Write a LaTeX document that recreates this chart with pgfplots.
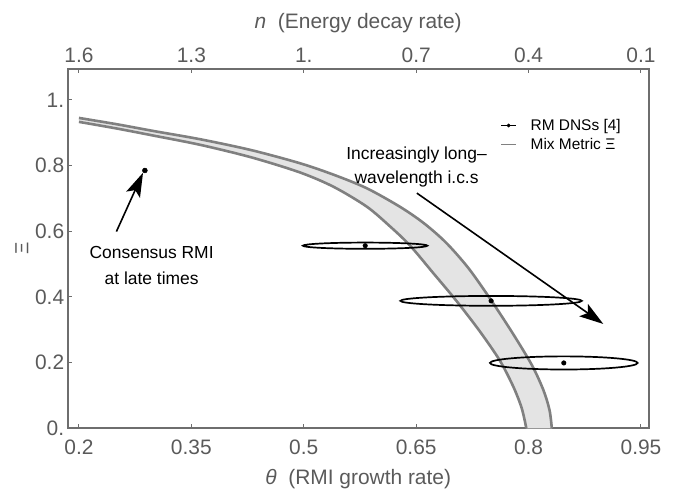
\documentclass[border=0pt]{standalone}
\usepackage{pgfplots}
\pgfplotsset{compat=1.18}
\usepgfplotslibrary{fillbetween}
\usepackage{fontspec}
\setmainfont{Liberation Sans}
\usetikzlibrary{arrows.meta}
\definecolor{framegray}{RGB}{110,110,110}
\definecolor{ticklab}{RGB}{90,90,90}
\definecolor{bandline}{RGB}{128,128,128}
\definecolor{bandfill}{RGB}{228,228,228}

\pgfplotstableread{
t xi
0.200 0.945
0.250 0.926
0.300 0.905
0.362 0.880
0.430 0.847
0.495 0.807
0.540 0.772
0.584 0.731
0.628 0.675
0.660 0.625
0.690 0.565
0.720 0.487
0.750 0.390
0.780 0.285
0.805 0.190
0.820 0.115
0.828 0.055
0.831 0.000
}\uptab

\pgfplotstableread{
t xi
0.200 0.933
0.250 0.913
0.300 0.891
0.362 0.863
0.430 0.825
0.495 0.779
0.540 0.735
0.584 0.675
0.615 0.615
0.642 0.556
0.673 0.472
0.703 0.390
0.735 0.295
0.762 0.205
0.780 0.125
0.791 0.060
0.797 0.000
}\lowtab

\pgfplotstableread{
t xi
0.582 0.556
0.750 0.388
0.847 0.199
}\dnstab

\pgfplotstableread{
t xi
0.288 0.785
}\constab

\begin{document}
\begin{tikzpicture}
\begin{axis}[
  name=main,
  scale only axis, width=581bp, height=359.3bp,
  xmin=0.185, xmax=0.9603, ymin=0, ymax=1.094,
  axis line style={framegray, line width=1.6bp},
  xtick={0.2,0.35,0.5,0.65,0.8,0.95},
  xticklabels={0.2,0.35,0.5,0.65,0.8,0.95},
  ytick={0,0.2,0.4,0.6,0.8,1},
  yticklabels={0.,0.2,0.4,0.6,0.8,1.},
  xtick pos=bottom, ytick pos=left,
  tick align=inside, major tick length=4.5bp,
  minor tick num=0,
  tick style={framegray, line width=1bp},
  tick label style={font=\fontsize{21}{21}\selectfont, text=ticklab},
  xticklabel shift=8bp,
  xlabel={\textit{θ}\ \ (RMI growth rate)},
  ylabel={Ξ},
  label style={font=\fontsize{21}{21}\selectfont, text=ticklab},
  xlabel style={yshift=-8bp},
  ylabel style={font=\fontsize{19}{19}\selectfont},
  clip=false,
  legend style={at={(0.7395,0.872)}, anchor=north west, draw=none, fill=none,
    font=\fontsize{15.5}{17}\selectfont, row sep=2bp,
    /tikz/every odd column/.append style={column sep=12bp}},
  legend cell align=left,
]
\addlegendimage{legend image code/.code={
   \draw[draw=black,line width=1.1bp] (0bp,0bp) -- (15bp,0bp);
   \fill[black] (7.5bp,0bp) circle (1.7bp);}}
\addlegendentry{RM DNSs [4]}
\addlegendimage{legend image code/.code={
   \draw[draw=bandline,line width=1.1bp] (0bp,0bp) -- (15bp,0bp);}}
\addlegendentry{Mix Metric Ξ}

\addplot[name path=up, draw=none, smooth, forget plot] table[x=t,y=xi]{\uptab};
\addplot[name path=lo, draw=none, smooth, forget plot] table[x=t,y=xi]{\lowtab};
\addplot[bandfill, forget plot] fill between[of=up and lo];
\addplot[bandline, line width=2.6bp, smooth, forget plot] table[x=t,y=xi]{\uptab};
\addplot[bandline, line width=2.6bp, smooth, forget plot] table[x=t,y=xi]{\lowtab};

\draw[black, line width=1.7bp] (axis cs:0.582,0.556) ellipse [x radius=0.083, y radius=0.0095];
\draw[black, line width=1.7bp] (axis cs:0.750,0.388) ellipse [x radius=0.121, y radius=0.015];
\draw[black, line width=1.7bp] (axis cs:0.847,0.199) ellipse [x radius=0.0985, y radius=0.020];

\addplot[only marks, mark=*, mark size=2.3bp, black, forget plot] table[x=t,y=xi]{\dnstab};
\addplot[only marks, mark=*, mark size=2.5bp, black, forget plot] table[x=t,y=xi]{\constab};

\draw[black, line width=1.6bp, -{Stealth[length=24bp, width=15bp, inset=5bp]}]
  (axis cs:0.250,0.599) -- (axis cs:0.2855,0.778);
\draw[black, line width=1.6bp, -{Stealth[length=24bp, width=15bp, inset=5bp]}]
  (axis cs:0.651,0.716) -- (axis cs:0.8997,0.3177);

\node[align=center, font=\fontsize{17.5}{26}\selectfont] at (axis cs:0.297,0.495)
  {Consensus RMI\\at late times};
\node[align=center, font=\fontsize{17.5}{24}\selectfont] at (axis cs:0.6505,0.796)
  {Increasingly long–\\wavelength i.c.s};

\coordinate (ll) at (rel axis cs:0,0);
\coordinate (ur) at (rel axis cs:1,1);
\end{axis}
\begin{axis}[
  scale only axis, width=581bp, height=359.3bp,
  xmin=0.185, xmax=0.9603, ymin=0, ymax=1.094,
  axis x line*=top, axis y line=none,
  axis line style={framegray, line width=1.6bp},
  xtick={0.2,0.35,0.5,0.65,0.8,0.95},
  xticklabels={1.6,1.3,1.,0.7,0.4,0.1},
  tick align=inside, major tick length=4.5bp,
  tick style={framegray, line width=1bp},
  tick label style={font=\fontsize{21}{21}\selectfont, text=ticklab},
  xticklabel shift=3bp,
  xlabel={\textit{n}\ \ (Energy decay rate)},
  label style={font=\fontsize{21}{21}\selectfont, text=ticklab},
  xlabel style={yshift=8bp},
]
\end{axis}
\pgfresetboundingbox
\path[use as bounding box] ([shift={(-67.7bp,-63.7bp)}]ll) rectangle ([shift={(28.3bp,69bp)}]ur);
\end{tikzpicture}
\end{document}
